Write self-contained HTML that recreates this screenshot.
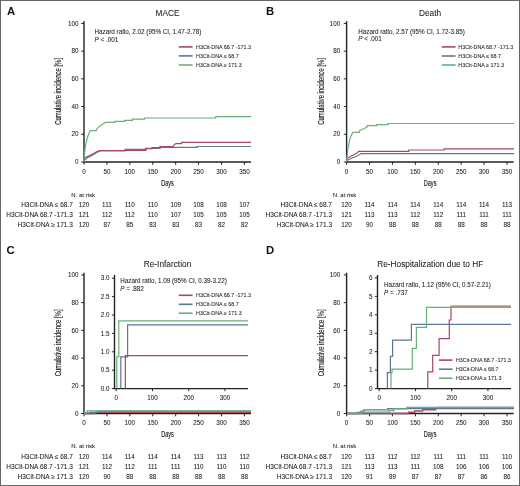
<!DOCTYPE html>
<html><head><meta charset="utf-8"><title>Cumulative incidence by H3Cit-DNA</title>
<style>html,body{margin:0;padding:0;background:#fff;width:520px;height:486px;overflow:hidden}</style>
</head><body>
<svg width="520" height="486" viewBox="0 0 520 486" style="display:block;will-change:transform">
<g font-family='"Liberation Sans", sans-serif'>
<rect x="0" y="0" width="520" height="486" fill="#fff"/>
<text x="6.9" y="14.8" font-size="11.3" text-anchor="start" font-weight="bold" fill="#111" >A</text>
<text x="167.5" y="15.8" font-size="8.3" text-anchor="middle" font-weight="normal" fill="#222" stroke="#222" stroke-width="0.06" >MACE</text>
<line x1="84.0" y1="162.6" x2="84.0" y2="21.2" stroke="#222" stroke-width="1.4"/>
<line x1="83.4" y1="162.0" x2="251" y2="162.0" stroke="#222" stroke-width="1.4"/>
<line x1="81.2" y1="162.00" x2="84.0" y2="162.00" stroke="#222" stroke-width="1"/>
<text x="78.5" y="164.2" font-size="6.3" text-anchor="end" font-weight="normal" fill="#222" stroke="#222" stroke-width="0.06" >0</text>
<line x1="81.2" y1="134.28" x2="84.0" y2="134.28" stroke="#222" stroke-width="1"/>
<text x="78.5" y="136.48" font-size="6.3" text-anchor="end" font-weight="normal" fill="#222" stroke="#222" stroke-width="0.06" >20</text>
<line x1="81.2" y1="106.56" x2="84.0" y2="106.56" stroke="#222" stroke-width="1"/>
<text x="78.5" y="108.76" font-size="6.3" text-anchor="end" font-weight="normal" fill="#222" stroke="#222" stroke-width="0.06" >40</text>
<line x1="81.2" y1="78.84" x2="84.0" y2="78.84" stroke="#222" stroke-width="1"/>
<text x="78.5" y="81.04" font-size="6.3" text-anchor="end" font-weight="normal" fill="#222" stroke="#222" stroke-width="0.06" >60</text>
<line x1="81.2" y1="51.12" x2="84.0" y2="51.12" stroke="#222" stroke-width="1"/>
<text x="78.5" y="53.32000000000001" font-size="6.3" text-anchor="end" font-weight="normal" fill="#222" stroke="#222" stroke-width="0.06" >80</text>
<line x1="81.2" y1="23.40" x2="84.0" y2="23.40" stroke="#222" stroke-width="1"/>
<text x="78.5" y="25.600000000000005" font-size="6.3" text-anchor="end" font-weight="normal" fill="#222" stroke="#222" stroke-width="0.06" >100</text>
<line x1="84.00" y1="162.0" x2="84.00" y2="164.8" stroke="#222" stroke-width="1"/>
<text x="84.00" y="173.8" font-size="6.3" text-anchor="middle" font-weight="normal" fill="#222" stroke="#222" stroke-width="0.06" >0</text>
<line x1="106.91" y1="162.0" x2="106.91" y2="164.8" stroke="#222" stroke-width="1"/>
<text x="106.91" y="173.8" font-size="6.3" text-anchor="middle" font-weight="normal" fill="#222" stroke="#222" stroke-width="0.06" >50</text>
<line x1="129.83" y1="162.0" x2="129.83" y2="164.8" stroke="#222" stroke-width="1"/>
<text x="129.83" y="173.8" font-size="6.3" text-anchor="middle" font-weight="normal" fill="#222" stroke="#222" stroke-width="0.06" >100</text>
<line x1="152.75" y1="162.0" x2="152.75" y2="164.8" stroke="#222" stroke-width="1"/>
<text x="152.75" y="173.8" font-size="6.3" text-anchor="middle" font-weight="normal" fill="#222" stroke="#222" stroke-width="0.06" >150</text>
<line x1="175.66" y1="162.0" x2="175.66" y2="164.8" stroke="#222" stroke-width="1"/>
<text x="175.66" y="173.8" font-size="6.3" text-anchor="middle" font-weight="normal" fill="#222" stroke="#222" stroke-width="0.06" >200</text>
<line x1="198.57" y1="162.0" x2="198.57" y2="164.8" stroke="#222" stroke-width="1"/>
<text x="198.57" y="173.8" font-size="6.3" text-anchor="middle" font-weight="normal" fill="#222" stroke="#222" stroke-width="0.06" >250</text>
<line x1="221.49" y1="162.0" x2="221.49" y2="164.8" stroke="#222" stroke-width="1"/>
<text x="221.49" y="173.8" font-size="6.3" text-anchor="middle" font-weight="normal" fill="#222" stroke="#222" stroke-width="0.06" >300</text>
<line x1="244.41" y1="162.0" x2="244.41" y2="164.8" stroke="#222" stroke-width="1"/>
<text x="244.41" y="173.8" font-size="6.3" text-anchor="middle" font-weight="normal" fill="#222" stroke="#222" stroke-width="0.06" >350</text>
<text x="0" y="0" font-size="9" fill="#222" stroke="#222" stroke-width="0.15" text-anchor="middle" transform="translate(167.5,185.8) scale(0.62,1)">Days</text>
<text x="0" y="0" font-size="9" fill="#222" stroke="#222" stroke-width="0.15" text-anchor="middle" transform="translate(61.2,91.4) rotate(-90) scale(0.663,1)">Cumulative incidence [%]</text>
<text x="94.5" y="34.1" font-size="6.3" text-anchor="start" font-weight="normal" fill="#222" stroke="#222" stroke-width="0.06" >Hazard ratio, 2.02 (95% CI, 1.47-2.78)</text>
<text x="94.5" y="42.0" font-size="6.3" text-anchor="start" font-weight="normal" fill="#222" stroke="#222" stroke-width="0.06" ><tspan font-style="italic">P</tspan> &lt; .001</text>
<line x1="178.8" y1="46.9" x2="192.6" y2="46.9" stroke="#a8485f" stroke-width="1.6"/>
<text x="196.1" y="48.8" font-size="5.38" text-anchor="start" font-weight="normal" fill="#222" stroke="#222" stroke-width="0.06" >H3Cit-DNA 68.7 -171.3</text>
<line x1="178.8" y1="55.9" x2="192.6" y2="55.9" stroke="#5d7894" stroke-width="1.6"/>
<text x="196.1" y="57.8" font-size="5.38" text-anchor="start" font-weight="normal" fill="#222" stroke="#222" stroke-width="0.06" >H3Cit-DNA &#8804; 68.7</text>
<line x1="178.8" y1="65.0" x2="192.6" y2="65.0" stroke="#6aae7c" stroke-width="1.6"/>
<text x="196.1" y="66.9" font-size="5.38" text-anchor="start" font-weight="normal" fill="#222" stroke="#222" stroke-width="0.06" >H3Cit-DNA &#8805; 171.3</text>
<polyline points="84.00,162.00 84.30,160.50 86.40,158.30 89.00,157.00 92.00,155.50 95.00,153.50 98.00,152.00 101.00,150.80 125.00,150.80 125.00,149.40 145.50,149.40 145.50,148.30 160.00,148.30 160.00,147.40 197.00,147.40 197.00,146.50 251.00,146.50" fill="none" stroke="#5d7894" stroke-width="1.2" stroke-linejoin="miter"/>
<polyline points="84.00,162.00 84.30,158.00 86.00,157.20 88.00,156.30 91.00,154.80 94.00,153.30 97.00,151.60 99.50,150.50 146.00,150.50 146.00,148.60 152.00,148.60 152.00,147.60 160.00,147.60 160.00,146.60 173.00,146.60 174.50,144.50 176.00,143.60 181.50,143.60 181.50,142.30 251.00,142.30" fill="none" stroke="#a8485f" stroke-width="1.2" stroke-linejoin="miter"/>
<polyline points="84.00,162.00 84.40,155.00 85.20,148.00 86.30,142.00 87.30,138.00 88.40,134.80 90.10,130.60 96.30,130.60 97.10,128.60 99.30,126.40 102.70,124.20 105.20,122.40 115.00,122.40 115.00,121.30 124.60,121.30 124.60,120.30 132.30,120.30 132.30,119.20 144.60,119.20 144.60,118.00 215.70,118.00 215.70,116.60 251.00,116.60" fill="none" stroke="#6aae7c" stroke-width="1.2" stroke-linejoin="miter"/>
<text x="71.3" y="196.6" font-size="6.0" text-anchor="start" font-weight="normal" fill="#222" stroke="#222" stroke-width="0.06" >N. at risk</text>
<text x="72.8" y="207.3" font-size="6.5" text-anchor="end" font-weight="normal" fill="#222" stroke="#222" stroke-width="0.06" >H3Cit-DNA &#8804; 68.7</text>
<text x="84.00" y="207.3" font-size="6.3" text-anchor="middle" font-weight="normal" fill="#222" stroke="#222" stroke-width="0.06" >120</text>
<text x="106.91" y="207.3" font-size="6.3" text-anchor="middle" font-weight="normal" fill="#222" stroke="#222" stroke-width="0.06" >111</text>
<text x="129.83" y="207.3" font-size="6.3" text-anchor="middle" font-weight="normal" fill="#222" stroke="#222" stroke-width="0.06" >110</text>
<text x="152.75" y="207.3" font-size="6.3" text-anchor="middle" font-weight="normal" fill="#222" stroke="#222" stroke-width="0.06" >110</text>
<text x="175.66" y="207.3" font-size="6.3" text-anchor="middle" font-weight="normal" fill="#222" stroke="#222" stroke-width="0.06" >109</text>
<text x="198.57" y="207.3" font-size="6.3" text-anchor="middle" font-weight="normal" fill="#222" stroke="#222" stroke-width="0.06" >108</text>
<text x="221.49" y="207.3" font-size="6.3" text-anchor="middle" font-weight="normal" fill="#222" stroke="#222" stroke-width="0.06" >108</text>
<text x="244.41" y="207.3" font-size="6.3" text-anchor="middle" font-weight="normal" fill="#222" stroke="#222" stroke-width="0.06" >107</text>
<text x="72.8" y="217.3" font-size="6.5" text-anchor="end" font-weight="normal" fill="#222" stroke="#222" stroke-width="0.06" >H3Cit-DNA 68.7 -171.3</text>
<text x="84.00" y="217.3" font-size="6.3" text-anchor="middle" font-weight="normal" fill="#222" stroke="#222" stroke-width="0.06" >121</text>
<text x="106.91" y="217.3" font-size="6.3" text-anchor="middle" font-weight="normal" fill="#222" stroke="#222" stroke-width="0.06" >112</text>
<text x="129.83" y="217.3" font-size="6.3" text-anchor="middle" font-weight="normal" fill="#222" stroke="#222" stroke-width="0.06" >112</text>
<text x="152.75" y="217.3" font-size="6.3" text-anchor="middle" font-weight="normal" fill="#222" stroke="#222" stroke-width="0.06" >110</text>
<text x="175.66" y="217.3" font-size="6.3" text-anchor="middle" font-weight="normal" fill="#222" stroke="#222" stroke-width="0.06" >107</text>
<text x="198.57" y="217.3" font-size="6.3" text-anchor="middle" font-weight="normal" fill="#222" stroke="#222" stroke-width="0.06" >105</text>
<text x="221.49" y="217.3" font-size="6.3" text-anchor="middle" font-weight="normal" fill="#222" stroke="#222" stroke-width="0.06" >105</text>
<text x="244.41" y="217.3" font-size="6.3" text-anchor="middle" font-weight="normal" fill="#222" stroke="#222" stroke-width="0.06" >105</text>
<text x="72.8" y="227.4" font-size="6.5" text-anchor="end" font-weight="normal" fill="#222" stroke="#222" stroke-width="0.06" >H3Cit-DNA &#8805; 171.3</text>
<text x="84.00" y="227.4" font-size="6.3" text-anchor="middle" font-weight="normal" fill="#222" stroke="#222" stroke-width="0.06" >120</text>
<text x="106.91" y="227.4" font-size="6.3" text-anchor="middle" font-weight="normal" fill="#222" stroke="#222" stroke-width="0.06" >87</text>
<text x="129.83" y="227.4" font-size="6.3" text-anchor="middle" font-weight="normal" fill="#222" stroke="#222" stroke-width="0.06" >85</text>
<text x="152.75" y="227.4" font-size="6.3" text-anchor="middle" font-weight="normal" fill="#222" stroke="#222" stroke-width="0.06" >83</text>
<text x="175.66" y="227.4" font-size="6.3" text-anchor="middle" font-weight="normal" fill="#222" stroke="#222" stroke-width="0.06" >83</text>
<text x="198.57" y="227.4" font-size="6.3" text-anchor="middle" font-weight="normal" fill="#222" stroke="#222" stroke-width="0.06" >83</text>
<text x="221.49" y="227.4" font-size="6.3" text-anchor="middle" font-weight="normal" fill="#222" stroke="#222" stroke-width="0.06" >82</text>
<text x="244.41" y="227.4" font-size="6.3" text-anchor="middle" font-weight="normal" fill="#222" stroke="#222" stroke-width="0.06" >82</text>
<text x="266.1" y="14.8" font-size="11.3" text-anchor="start" font-weight="bold" fill="#111" >B</text>
<text x="430.1" y="15.8" font-size="8.3" text-anchor="middle" font-weight="normal" fill="#222" stroke="#222" stroke-width="0.06" >Death</text>
<line x1="346.6" y1="162.6" x2="346.6" y2="21.2" stroke="#222" stroke-width="1.4"/>
<line x1="346.0" y1="162.0" x2="513.6" y2="162.0" stroke="#222" stroke-width="1.4"/>
<line x1="343.8" y1="162.00" x2="346.6" y2="162.00" stroke="#222" stroke-width="1"/>
<text x="340.20000000000005" y="164.2" font-size="6.3" text-anchor="end" font-weight="normal" fill="#222" stroke="#222" stroke-width="0.06" >0</text>
<line x1="343.8" y1="134.28" x2="346.6" y2="134.28" stroke="#222" stroke-width="1"/>
<text x="340.20000000000005" y="136.48" font-size="6.3" text-anchor="end" font-weight="normal" fill="#222" stroke="#222" stroke-width="0.06" >20</text>
<line x1="343.8" y1="106.56" x2="346.6" y2="106.56" stroke="#222" stroke-width="1"/>
<text x="340.20000000000005" y="108.76" font-size="6.3" text-anchor="end" font-weight="normal" fill="#222" stroke="#222" stroke-width="0.06" >40</text>
<line x1="343.8" y1="78.84" x2="346.6" y2="78.84" stroke="#222" stroke-width="1"/>
<text x="340.20000000000005" y="81.04" font-size="6.3" text-anchor="end" font-weight="normal" fill="#222" stroke="#222" stroke-width="0.06" >60</text>
<line x1="343.8" y1="51.12" x2="346.6" y2="51.12" stroke="#222" stroke-width="1"/>
<text x="340.20000000000005" y="53.32000000000001" font-size="6.3" text-anchor="end" font-weight="normal" fill="#222" stroke="#222" stroke-width="0.06" >80</text>
<line x1="343.8" y1="23.40" x2="346.6" y2="23.40" stroke="#222" stroke-width="1"/>
<text x="340.20000000000005" y="25.600000000000005" font-size="6.3" text-anchor="end" font-weight="normal" fill="#222" stroke="#222" stroke-width="0.06" >100</text>
<line x1="346.60" y1="162.0" x2="346.60" y2="164.8" stroke="#222" stroke-width="1"/>
<text x="346.60" y="173.8" font-size="6.3" text-anchor="middle" font-weight="normal" fill="#222" stroke="#222" stroke-width="0.06" >0</text>
<line x1="369.52" y1="162.0" x2="369.52" y2="164.8" stroke="#222" stroke-width="1"/>
<text x="369.52" y="173.8" font-size="6.3" text-anchor="middle" font-weight="normal" fill="#222" stroke="#222" stroke-width="0.06" >50</text>
<line x1="392.43" y1="162.0" x2="392.43" y2="164.8" stroke="#222" stroke-width="1"/>
<text x="392.43" y="173.8" font-size="6.3" text-anchor="middle" font-weight="normal" fill="#222" stroke="#222" stroke-width="0.06" >100</text>
<line x1="415.35" y1="162.0" x2="415.35" y2="164.8" stroke="#222" stroke-width="1"/>
<text x="415.35" y="173.8" font-size="6.3" text-anchor="middle" font-weight="normal" fill="#222" stroke="#222" stroke-width="0.06" >150</text>
<line x1="438.26" y1="162.0" x2="438.26" y2="164.8" stroke="#222" stroke-width="1"/>
<text x="438.26" y="173.8" font-size="6.3" text-anchor="middle" font-weight="normal" fill="#222" stroke="#222" stroke-width="0.06" >200</text>
<line x1="461.18" y1="162.0" x2="461.18" y2="164.8" stroke="#222" stroke-width="1"/>
<text x="461.18" y="173.8" font-size="6.3" text-anchor="middle" font-weight="normal" fill="#222" stroke="#222" stroke-width="0.06" >250</text>
<line x1="484.09" y1="162.0" x2="484.09" y2="164.8" stroke="#222" stroke-width="1"/>
<text x="484.09" y="173.8" font-size="6.3" text-anchor="middle" font-weight="normal" fill="#222" stroke="#222" stroke-width="0.06" >300</text>
<line x1="507.00" y1="162.0" x2="507.00" y2="164.8" stroke="#222" stroke-width="1"/>
<text x="507.00" y="173.8" font-size="6.3" text-anchor="middle" font-weight="normal" fill="#222" stroke="#222" stroke-width="0.06" >350</text>
<text x="0" y="0" font-size="9" fill="#222" stroke="#222" stroke-width="0.15" text-anchor="middle" transform="translate(430.1,185.8) scale(0.62,1)">Days</text>
<text x="0" y="0" font-size="9" fill="#222" stroke="#222" stroke-width="0.15" text-anchor="middle" transform="translate(323.8,91.4) rotate(-90) scale(0.663,1)">Cumulative incidence [%]</text>
<text x="358.2" y="33.8" font-size="6.3" text-anchor="start" font-weight="normal" fill="#222" stroke="#222" stroke-width="0.06" >Hazard ratio, 2.57 (95% CI, 1.72-3.85)</text>
<text x="358.2" y="40.8" font-size="6.3" text-anchor="start" font-weight="normal" fill="#222" stroke="#222" stroke-width="0.06" ><tspan font-style="italic">P</tspan> &lt; .001</text>
<line x1="441.8" y1="46.9" x2="455.6" y2="46.9" stroke="#a8485f" stroke-width="1.6"/>
<text x="458.3" y="48.8" font-size="5.38" text-anchor="start" font-weight="normal" fill="#222" stroke="#222" stroke-width="0.06" >H3Cit-DNA 68.7 -171.3</text>
<line x1="441.8" y1="56.0" x2="455.6" y2="56.0" stroke="#5d7894" stroke-width="1.6"/>
<text x="458.3" y="57.9" font-size="5.38" text-anchor="start" font-weight="normal" fill="#222" stroke="#222" stroke-width="0.06" >H3Cit-DNA &#8804; 68.7</text>
<line x1="441.8" y1="65.0" x2="455.6" y2="65.0" stroke="#6aae7c" stroke-width="1.6"/>
<text x="458.3" y="66.9" font-size="5.38" text-anchor="start" font-weight="normal" fill="#222" stroke="#222" stroke-width="0.06" >H3Cit-DNA &#8805; 171.3</text>
<polyline points="346.60,162.00 346.80,160.50 349.00,159.50 352.00,158.00 355.00,157.00 358.00,155.50 360.00,154.30 361.00,153.60 514.00,153.60" fill="none" stroke="#5d7894" stroke-width="1.2" stroke-linejoin="miter"/>
<polyline points="346.60,162.00 346.80,158.50 349.00,157.50 351.00,156.00 353.00,155.30 355.00,154.00 357.00,153.00 358.70,151.30 408.80,151.30 408.80,150.00 444.20,150.00 444.20,148.80 514.00,148.80" fill="none" stroke="#a8485f" stroke-width="1.2" stroke-linejoin="miter"/>
<polyline points="346.60,162.00 347.20,155.00 348.00,148.00 349.30,142.00 350.50,137.00 352.80,132.40 359.30,132.40 360.00,130.20 363.00,129.00 366.80,127.30 367.00,125.60 376.60,125.60 376.60,124.60 388.00,124.60 388.00,123.50 514.00,123.50" fill="none" stroke="#6aae7c" stroke-width="1.2" stroke-linejoin="miter"/>
<text x="332.70000000000005" y="196.6" font-size="6.0" text-anchor="start" font-weight="normal" fill="#222" stroke="#222" stroke-width="0.06" >N. at risk</text>
<text x="332.00000000000006" y="207.3" font-size="6.5" text-anchor="end" font-weight="normal" fill="#222" stroke="#222" stroke-width="0.06" >H3Cit-DNA &#8804; 68.7</text>
<text x="346.60" y="207.3" font-size="6.3" text-anchor="middle" font-weight="normal" fill="#222" stroke="#222" stroke-width="0.06" >120</text>
<text x="369.52" y="207.3" font-size="6.3" text-anchor="middle" font-weight="normal" fill="#222" stroke="#222" stroke-width="0.06" >114</text>
<text x="392.43" y="207.3" font-size="6.3" text-anchor="middle" font-weight="normal" fill="#222" stroke="#222" stroke-width="0.06" >114</text>
<text x="415.35" y="207.3" font-size="6.3" text-anchor="middle" font-weight="normal" fill="#222" stroke="#222" stroke-width="0.06" >114</text>
<text x="438.26" y="207.3" font-size="6.3" text-anchor="middle" font-weight="normal" fill="#222" stroke="#222" stroke-width="0.06" >114</text>
<text x="461.18" y="207.3" font-size="6.3" text-anchor="middle" font-weight="normal" fill="#222" stroke="#222" stroke-width="0.06" >114</text>
<text x="484.09" y="207.3" font-size="6.3" text-anchor="middle" font-weight="normal" fill="#222" stroke="#222" stroke-width="0.06" >114</text>
<text x="507.00" y="207.3" font-size="6.3" text-anchor="middle" font-weight="normal" fill="#222" stroke="#222" stroke-width="0.06" >113</text>
<text x="332.00000000000006" y="217.3" font-size="6.5" text-anchor="end" font-weight="normal" fill="#222" stroke="#222" stroke-width="0.06" >H3Cit-DNA 68.7 -171.3</text>
<text x="346.60" y="217.3" font-size="6.3" text-anchor="middle" font-weight="normal" fill="#222" stroke="#222" stroke-width="0.06" >121</text>
<text x="369.52" y="217.3" font-size="6.3" text-anchor="middle" font-weight="normal" fill="#222" stroke="#222" stroke-width="0.06" >113</text>
<text x="392.43" y="217.3" font-size="6.3" text-anchor="middle" font-weight="normal" fill="#222" stroke="#222" stroke-width="0.06" >113</text>
<text x="415.35" y="217.3" font-size="6.3" text-anchor="middle" font-weight="normal" fill="#222" stroke="#222" stroke-width="0.06" >112</text>
<text x="438.26" y="217.3" font-size="6.3" text-anchor="middle" font-weight="normal" fill="#222" stroke="#222" stroke-width="0.06" >112</text>
<text x="461.18" y="217.3" font-size="6.3" text-anchor="middle" font-weight="normal" fill="#222" stroke="#222" stroke-width="0.06" >111</text>
<text x="484.09" y="217.3" font-size="6.3" text-anchor="middle" font-weight="normal" fill="#222" stroke="#222" stroke-width="0.06" >111</text>
<text x="507.00" y="217.3" font-size="6.3" text-anchor="middle" font-weight="normal" fill="#222" stroke="#222" stroke-width="0.06" >111</text>
<text x="332.00000000000006" y="227.4" font-size="6.5" text-anchor="end" font-weight="normal" fill="#222" stroke="#222" stroke-width="0.06" >H3Cit-DNA &#8805; 171.3</text>
<text x="346.60" y="227.4" font-size="6.3" text-anchor="middle" font-weight="normal" fill="#222" stroke="#222" stroke-width="0.06" >120</text>
<text x="369.52" y="227.4" font-size="6.3" text-anchor="middle" font-weight="normal" fill="#222" stroke="#222" stroke-width="0.06" >90</text>
<text x="392.43" y="227.4" font-size="6.3" text-anchor="middle" font-weight="normal" fill="#222" stroke="#222" stroke-width="0.06" >88</text>
<text x="415.35" y="227.4" font-size="6.3" text-anchor="middle" font-weight="normal" fill="#222" stroke="#222" stroke-width="0.06" >88</text>
<text x="438.26" y="227.4" font-size="6.3" text-anchor="middle" font-weight="normal" fill="#222" stroke="#222" stroke-width="0.06" >88</text>
<text x="461.18" y="227.4" font-size="6.3" text-anchor="middle" font-weight="normal" fill="#222" stroke="#222" stroke-width="0.06" >88</text>
<text x="484.09" y="227.4" font-size="6.3" text-anchor="middle" font-weight="normal" fill="#222" stroke="#222" stroke-width="0.06" >88</text>
<text x="507.00" y="227.4" font-size="6.3" text-anchor="middle" font-weight="normal" fill="#222" stroke="#222" stroke-width="0.06" >88</text>
<text x="6.4" y="253.9" font-size="11.3" text-anchor="start" font-weight="bold" fill="#111" >C</text>
<text x="167.5" y="267.4" font-size="8.3" text-anchor="middle" font-weight="normal" fill="#222" stroke="#222" stroke-width="0.06" >Re-Infarction</text>
<line x1="84.0" y1="414.1" x2="84.0" y2="272.7" stroke="#222" stroke-width="1.4"/>
<line x1="83.4" y1="413.5" x2="251" y2="413.5" stroke="#222" stroke-width="1.4"/>
<line x1="81.2" y1="413.50" x2="84.0" y2="413.50" stroke="#222" stroke-width="1"/>
<text x="78.5" y="415.7" font-size="6.3" text-anchor="end" font-weight="normal" fill="#222" stroke="#222" stroke-width="0.06" >0</text>
<line x1="81.2" y1="385.78" x2="84.0" y2="385.78" stroke="#222" stroke-width="1"/>
<text x="78.5" y="387.97999999999996" font-size="6.3" text-anchor="end" font-weight="normal" fill="#222" stroke="#222" stroke-width="0.06" >20</text>
<line x1="81.2" y1="358.06" x2="84.0" y2="358.06" stroke="#222" stroke-width="1"/>
<text x="78.5" y="360.26" font-size="6.3" text-anchor="end" font-weight="normal" fill="#222" stroke="#222" stroke-width="0.06" >40</text>
<line x1="81.2" y1="330.34" x2="84.0" y2="330.34" stroke="#222" stroke-width="1"/>
<text x="78.5" y="332.54" font-size="6.3" text-anchor="end" font-weight="normal" fill="#222" stroke="#222" stroke-width="0.06" >60</text>
<line x1="81.2" y1="302.62" x2="84.0" y2="302.62" stroke="#222" stroke-width="1"/>
<text x="78.5" y="304.82" font-size="6.3" text-anchor="end" font-weight="normal" fill="#222" stroke="#222" stroke-width="0.06" >80</text>
<line x1="81.2" y1="274.90" x2="84.0" y2="274.90" stroke="#222" stroke-width="1"/>
<text x="78.5" y="277.09999999999997" font-size="6.3" text-anchor="end" font-weight="normal" fill="#222" stroke="#222" stroke-width="0.06" >100</text>
<line x1="84.00" y1="413.5" x2="84.00" y2="416.3" stroke="#222" stroke-width="1"/>
<text x="84.00" y="425.3" font-size="6.3" text-anchor="middle" font-weight="normal" fill="#222" stroke="#222" stroke-width="0.06" >0</text>
<line x1="106.91" y1="413.5" x2="106.91" y2="416.3" stroke="#222" stroke-width="1"/>
<text x="106.91" y="425.3" font-size="6.3" text-anchor="middle" font-weight="normal" fill="#222" stroke="#222" stroke-width="0.06" >50</text>
<line x1="129.83" y1="413.5" x2="129.83" y2="416.3" stroke="#222" stroke-width="1"/>
<text x="129.83" y="425.3" font-size="6.3" text-anchor="middle" font-weight="normal" fill="#222" stroke="#222" stroke-width="0.06" >100</text>
<line x1="152.75" y1="413.5" x2="152.75" y2="416.3" stroke="#222" stroke-width="1"/>
<text x="152.75" y="425.3" font-size="6.3" text-anchor="middle" font-weight="normal" fill="#222" stroke="#222" stroke-width="0.06" >150</text>
<line x1="175.66" y1="413.5" x2="175.66" y2="416.3" stroke="#222" stroke-width="1"/>
<text x="175.66" y="425.3" font-size="6.3" text-anchor="middle" font-weight="normal" fill="#222" stroke="#222" stroke-width="0.06" >200</text>
<line x1="198.57" y1="413.5" x2="198.57" y2="416.3" stroke="#222" stroke-width="1"/>
<text x="198.57" y="425.3" font-size="6.3" text-anchor="middle" font-weight="normal" fill="#222" stroke="#222" stroke-width="0.06" >250</text>
<line x1="221.49" y1="413.5" x2="221.49" y2="416.3" stroke="#222" stroke-width="1"/>
<text x="221.49" y="425.3" font-size="6.3" text-anchor="middle" font-weight="normal" fill="#222" stroke="#222" stroke-width="0.06" >300</text>
<line x1="244.41" y1="413.5" x2="244.41" y2="416.3" stroke="#222" stroke-width="1"/>
<text x="244.41" y="425.3" font-size="6.3" text-anchor="middle" font-weight="normal" fill="#222" stroke="#222" stroke-width="0.06" >350</text>
<text x="0" y="0" font-size="9" fill="#222" stroke="#222" stroke-width="0.15" text-anchor="middle" transform="translate(167.5,437.3) scale(0.62,1)">Days</text>
<text x="0" y="0" font-size="9" fill="#222" stroke="#222" stroke-width="0.15" text-anchor="middle" transform="translate(61.2,342.9) rotate(-90) scale(0.663,1)">Cumulative incidence [%]</text>
<line x1="114.5" y1="388.6" x2="114.5" y2="275.0" stroke="#222" stroke-width="1.4"/>
<line x1="113.9" y1="388.6" x2="248" y2="388.6" stroke="#222" stroke-width="1.4"/>
<line x1="111.9" y1="388.60" x2="114.5" y2="388.60" stroke="#222" stroke-width="1"/>
<text x="109.5" y="390.8" font-size="6.3" text-anchor="end" font-weight="normal" fill="#222" stroke="#222" stroke-width="0.06" >0.0</text>
<line x1="111.9" y1="370.20" x2="114.5" y2="370.20" stroke="#222" stroke-width="1"/>
<text x="109.5" y="372.40000000000003" font-size="6.3" text-anchor="end" font-weight="normal" fill="#222" stroke="#222" stroke-width="0.06" >0.5</text>
<line x1="111.9" y1="351.80" x2="114.5" y2="351.80" stroke="#222" stroke-width="1"/>
<text x="109.5" y="354.0" font-size="6.3" text-anchor="end" font-weight="normal" fill="#222" stroke="#222" stroke-width="0.06" >1.0</text>
<line x1="111.9" y1="333.40" x2="114.5" y2="333.40" stroke="#222" stroke-width="1"/>
<text x="109.5" y="335.6" font-size="6.3" text-anchor="end" font-weight="normal" fill="#222" stroke="#222" stroke-width="0.06" >1.5</text>
<line x1="111.9" y1="315.00" x2="114.5" y2="315.00" stroke="#222" stroke-width="1"/>
<text x="109.5" y="317.2" font-size="6.3" text-anchor="end" font-weight="normal" fill="#222" stroke="#222" stroke-width="0.06" >2.0</text>
<line x1="111.9" y1="296.60" x2="114.5" y2="296.60" stroke="#222" stroke-width="1"/>
<text x="109.5" y="298.8" font-size="6.3" text-anchor="end" font-weight="normal" fill="#222" stroke="#222" stroke-width="0.06" >2.5</text>
<line x1="111.9" y1="278.20" x2="114.5" y2="278.20" stroke="#222" stroke-width="1"/>
<text x="109.5" y="280.40000000000003" font-size="6.3" text-anchor="end" font-weight="normal" fill="#222" stroke="#222" stroke-width="0.06" >3.0</text>
<line x1="116.20" y1="388.6" x2="116.20" y2="391.2" stroke="#222" stroke-width="1"/>
<text x="116.20" y="400.2" font-size="6.3" text-anchor="middle" font-weight="normal" fill="#222" stroke="#222" stroke-width="0.06" >0</text>
<line x1="152.45" y1="388.6" x2="152.45" y2="391.2" stroke="#222" stroke-width="1"/>
<text x="152.45" y="400.2" font-size="6.3" text-anchor="middle" font-weight="normal" fill="#222" stroke="#222" stroke-width="0.06" >100</text>
<line x1="188.70" y1="388.6" x2="188.70" y2="391.2" stroke="#222" stroke-width="1"/>
<text x="188.70" y="400.2" font-size="6.3" text-anchor="middle" font-weight="normal" fill="#222" stroke="#222" stroke-width="0.06" >200</text>
<line x1="224.95" y1="388.6" x2="224.95" y2="391.2" stroke="#222" stroke-width="1"/>
<text x="224.95" y="400.2" font-size="6.3" text-anchor="middle" font-weight="normal" fill="#222" stroke="#222" stroke-width="0.06" >300</text>
<text x="120.2" y="282.8" font-size="6.3" text-anchor="start" font-weight="normal" fill="#222" stroke="#222" stroke-width="0.06" >Hazard ratio, 1.09 (95% CI, 0.39-3.22)</text>
<text x="120.2" y="290.5" font-size="6.3" text-anchor="start" font-weight="normal" fill="#222" stroke="#222" stroke-width="0.06" ><tspan font-style="italic">P</tspan> = .882</text>
<line x1="178.8" y1="295.3" x2="192.6" y2="295.3" stroke="#a8485f" stroke-width="1.6"/>
<text x="196.1" y="297.2" font-size="5.38" text-anchor="start" font-weight="normal" fill="#222" stroke="#222" stroke-width="0.06" >H3Cit-DNA 68.7 -171.3</text>
<line x1="178.8" y1="304.3" x2="192.6" y2="304.3" stroke="#5d7894" stroke-width="1.6"/>
<text x="196.1" y="306.2" font-size="5.38" text-anchor="start" font-weight="normal" fill="#222" stroke="#222" stroke-width="0.06" >H3Cit-DNA &#8804; 68.7</text>
<line x1="178.8" y1="313.2" x2="192.6" y2="313.2" stroke="#6aae7c" stroke-width="1.6"/>
<text x="196.1" y="315.09999999999997" font-size="5.38" text-anchor="start" font-weight="normal" fill="#222" stroke="#222" stroke-width="0.06" >H3Cit-DNA &#8805; 171.3</text>
<polyline points="125.40,388.60 125.40,355.70 248.00,355.70" fill="none" stroke="#a8485f" stroke-width="1.2" stroke-linejoin="miter"/>
<polyline points="120.80,388.60 120.80,356.80 127.60,356.80 127.60,324.80 248.00,324.80" fill="none" stroke="#5d7894" stroke-width="1.2" stroke-linejoin="miter"/>
<polyline points="116.80,388.60 116.80,356.60 118.80,356.60 118.80,320.80 248.00,320.80" fill="none" stroke="#6aae7c" stroke-width="1.2" stroke-linejoin="miter"/>
<polyline points="84.00,413.50 95.63,413.50 95.63,412.26 251.00,412.26" fill="none" stroke="#a8485f" stroke-width="1.3" stroke-linejoin="miter"/>
<polyline points="84.00,413.50 89.82,413.50 89.82,412.30 98.41,412.30 98.41,411.10 251.00,411.10" fill="none" stroke="#5d7894" stroke-width="1.3" stroke-linejoin="miter"/>
<polyline points="84.00,413.50 84.76,413.50 84.76,412.29 87.29,412.29 87.29,410.95 251.00,410.95" fill="none" stroke="#6aae7c" stroke-width="1.3" stroke-linejoin="miter"/>
<text x="71.3" y="448.1" font-size="6.0" text-anchor="start" font-weight="normal" fill="#222" stroke="#222" stroke-width="0.06" >N. at risk</text>
<text x="72.8" y="458.8" font-size="6.5" text-anchor="end" font-weight="normal" fill="#222" stroke="#222" stroke-width="0.06" >H3Cit-DNA &#8804; 68.7</text>
<text x="84.00" y="458.8" font-size="6.3" text-anchor="middle" font-weight="normal" fill="#222" stroke="#222" stroke-width="0.06" >120</text>
<text x="106.91" y="458.8" font-size="6.3" text-anchor="middle" font-weight="normal" fill="#222" stroke="#222" stroke-width="0.06" >114</text>
<text x="129.83" y="458.8" font-size="6.3" text-anchor="middle" font-weight="normal" fill="#222" stroke="#222" stroke-width="0.06" >114</text>
<text x="152.75" y="458.8" font-size="6.3" text-anchor="middle" font-weight="normal" fill="#222" stroke="#222" stroke-width="0.06" >114</text>
<text x="175.66" y="458.8" font-size="6.3" text-anchor="middle" font-weight="normal" fill="#222" stroke="#222" stroke-width="0.06" >114</text>
<text x="198.57" y="458.8" font-size="6.3" text-anchor="middle" font-weight="normal" fill="#222" stroke="#222" stroke-width="0.06" >113</text>
<text x="221.49" y="458.8" font-size="6.3" text-anchor="middle" font-weight="normal" fill="#222" stroke="#222" stroke-width="0.06" >113</text>
<text x="244.41" y="458.8" font-size="6.3" text-anchor="middle" font-weight="normal" fill="#222" stroke="#222" stroke-width="0.06" >112</text>
<text x="72.8" y="468.8" font-size="6.5" text-anchor="end" font-weight="normal" fill="#222" stroke="#222" stroke-width="0.06" >H3Cit-DNA 68.7 -171.3</text>
<text x="84.00" y="468.8" font-size="6.3" text-anchor="middle" font-weight="normal" fill="#222" stroke="#222" stroke-width="0.06" >121</text>
<text x="106.91" y="468.8" font-size="6.3" text-anchor="middle" font-weight="normal" fill="#222" stroke="#222" stroke-width="0.06" >112</text>
<text x="129.83" y="468.8" font-size="6.3" text-anchor="middle" font-weight="normal" fill="#222" stroke="#222" stroke-width="0.06" >112</text>
<text x="152.75" y="468.8" font-size="6.3" text-anchor="middle" font-weight="normal" fill="#222" stroke="#222" stroke-width="0.06" >111</text>
<text x="175.66" y="468.8" font-size="6.3" text-anchor="middle" font-weight="normal" fill="#222" stroke="#222" stroke-width="0.06" >111</text>
<text x="198.57" y="468.8" font-size="6.3" text-anchor="middle" font-weight="normal" fill="#222" stroke="#222" stroke-width="0.06" >110</text>
<text x="221.49" y="468.8" font-size="6.3" text-anchor="middle" font-weight="normal" fill="#222" stroke="#222" stroke-width="0.06" >110</text>
<text x="244.41" y="468.8" font-size="6.3" text-anchor="middle" font-weight="normal" fill="#222" stroke="#222" stroke-width="0.06" >110</text>
<text x="72.8" y="478.9" font-size="6.5" text-anchor="end" font-weight="normal" fill="#222" stroke="#222" stroke-width="0.06" >H3Cit-DNA &#8805; 171.3</text>
<text x="84.00" y="478.9" font-size="6.3" text-anchor="middle" font-weight="normal" fill="#222" stroke="#222" stroke-width="0.06" >120</text>
<text x="106.91" y="478.9" font-size="6.3" text-anchor="middle" font-weight="normal" fill="#222" stroke="#222" stroke-width="0.06" >90</text>
<text x="129.83" y="478.9" font-size="6.3" text-anchor="middle" font-weight="normal" fill="#222" stroke="#222" stroke-width="0.06" >88</text>
<text x="152.75" y="478.9" font-size="6.3" text-anchor="middle" font-weight="normal" fill="#222" stroke="#222" stroke-width="0.06" >88</text>
<text x="175.66" y="478.9" font-size="6.3" text-anchor="middle" font-weight="normal" fill="#222" stroke="#222" stroke-width="0.06" >88</text>
<text x="198.57" y="478.9" font-size="6.3" text-anchor="middle" font-weight="normal" fill="#222" stroke="#222" stroke-width="0.06" >88</text>
<text x="221.49" y="478.9" font-size="6.3" text-anchor="middle" font-weight="normal" fill="#222" stroke="#222" stroke-width="0.06" >88</text>
<text x="244.41" y="478.9" font-size="6.3" text-anchor="middle" font-weight="normal" fill="#222" stroke="#222" stroke-width="0.06" >88</text>
<text x="266.1" y="253.8" font-size="11.3" text-anchor="start" font-weight="bold" fill="#111" >D</text>
<text x="430.2" y="267.4" font-size="8.3" text-anchor="middle" font-weight="normal" fill="#222" stroke="#222" stroke-width="0.06" >Re-Hospitalization due to HF</text>
<line x1="346.6" y1="414.1" x2="346.6" y2="272.7" stroke="#222" stroke-width="1.4"/>
<line x1="346.0" y1="413.5" x2="513.6" y2="413.5" stroke="#222" stroke-width="1.4"/>
<line x1="343.8" y1="413.50" x2="346.6" y2="413.50" stroke="#222" stroke-width="1"/>
<text x="340.20000000000005" y="415.7" font-size="6.3" text-anchor="end" font-weight="normal" fill="#222" stroke="#222" stroke-width="0.06" >0</text>
<line x1="343.8" y1="385.78" x2="346.6" y2="385.78" stroke="#222" stroke-width="1"/>
<text x="340.20000000000005" y="387.97999999999996" font-size="6.3" text-anchor="end" font-weight="normal" fill="#222" stroke="#222" stroke-width="0.06" >20</text>
<line x1="343.8" y1="358.06" x2="346.6" y2="358.06" stroke="#222" stroke-width="1"/>
<text x="340.20000000000005" y="360.26" font-size="6.3" text-anchor="end" font-weight="normal" fill="#222" stroke="#222" stroke-width="0.06" >40</text>
<line x1="343.8" y1="330.34" x2="346.6" y2="330.34" stroke="#222" stroke-width="1"/>
<text x="340.20000000000005" y="332.54" font-size="6.3" text-anchor="end" font-weight="normal" fill="#222" stroke="#222" stroke-width="0.06" >60</text>
<line x1="343.8" y1="302.62" x2="346.6" y2="302.62" stroke="#222" stroke-width="1"/>
<text x="340.20000000000005" y="304.82" font-size="6.3" text-anchor="end" font-weight="normal" fill="#222" stroke="#222" stroke-width="0.06" >80</text>
<line x1="343.8" y1="274.90" x2="346.6" y2="274.90" stroke="#222" stroke-width="1"/>
<text x="340.20000000000005" y="277.09999999999997" font-size="6.3" text-anchor="end" font-weight="normal" fill="#222" stroke="#222" stroke-width="0.06" >100</text>
<line x1="346.60" y1="413.5" x2="346.60" y2="416.3" stroke="#222" stroke-width="1"/>
<text x="346.60" y="425.3" font-size="6.3" text-anchor="middle" font-weight="normal" fill="#222" stroke="#222" stroke-width="0.06" >0</text>
<line x1="369.52" y1="413.5" x2="369.52" y2="416.3" stroke="#222" stroke-width="1"/>
<text x="369.52" y="425.3" font-size="6.3" text-anchor="middle" font-weight="normal" fill="#222" stroke="#222" stroke-width="0.06" >50</text>
<line x1="392.43" y1="413.5" x2="392.43" y2="416.3" stroke="#222" stroke-width="1"/>
<text x="392.43" y="425.3" font-size="6.3" text-anchor="middle" font-weight="normal" fill="#222" stroke="#222" stroke-width="0.06" >100</text>
<line x1="415.35" y1="413.5" x2="415.35" y2="416.3" stroke="#222" stroke-width="1"/>
<text x="415.35" y="425.3" font-size="6.3" text-anchor="middle" font-weight="normal" fill="#222" stroke="#222" stroke-width="0.06" >150</text>
<line x1="438.26" y1="413.5" x2="438.26" y2="416.3" stroke="#222" stroke-width="1"/>
<text x="438.26" y="425.3" font-size="6.3" text-anchor="middle" font-weight="normal" fill="#222" stroke="#222" stroke-width="0.06" >200</text>
<line x1="461.18" y1="413.5" x2="461.18" y2="416.3" stroke="#222" stroke-width="1"/>
<text x="461.18" y="425.3" font-size="6.3" text-anchor="middle" font-weight="normal" fill="#222" stroke="#222" stroke-width="0.06" >250</text>
<line x1="484.09" y1="413.5" x2="484.09" y2="416.3" stroke="#222" stroke-width="1"/>
<text x="484.09" y="425.3" font-size="6.3" text-anchor="middle" font-weight="normal" fill="#222" stroke="#222" stroke-width="0.06" >300</text>
<line x1="507.00" y1="413.5" x2="507.00" y2="416.3" stroke="#222" stroke-width="1"/>
<text x="507.00" y="425.3" font-size="6.3" text-anchor="middle" font-weight="normal" fill="#222" stroke="#222" stroke-width="0.06" >350</text>
<text x="0" y="0" font-size="9" fill="#222" stroke="#222" stroke-width="0.15" text-anchor="middle" transform="translate(430.1,437.3) scale(0.62,1)">Days</text>
<text x="0" y="0" font-size="9" fill="#222" stroke="#222" stroke-width="0.15" text-anchor="middle" transform="translate(323.8,342.9) rotate(-90) scale(0.663,1)">Cumulative incidence [%]</text>
<line x1="377.5" y1="388.6" x2="377.5" y2="275.0" stroke="#222" stroke-width="1.4"/>
<line x1="376.9" y1="388.6" x2="511.0" y2="388.6" stroke="#222" stroke-width="1.4"/>
<line x1="374.9" y1="388.60" x2="377.5" y2="388.60" stroke="#222" stroke-width="1"/>
<text x="372.5" y="390.8" font-size="6.3" text-anchor="end" font-weight="normal" fill="#222" stroke="#222" stroke-width="0.06" >0</text>
<line x1="374.9" y1="370.15" x2="377.5" y2="370.15" stroke="#222" stroke-width="1"/>
<text x="372.5" y="372.35" font-size="6.3" text-anchor="end" font-weight="normal" fill="#222" stroke="#222" stroke-width="0.06" >1</text>
<line x1="374.9" y1="351.70" x2="377.5" y2="351.70" stroke="#222" stroke-width="1"/>
<text x="372.5" y="353.90000000000003" font-size="6.3" text-anchor="end" font-weight="normal" fill="#222" stroke="#222" stroke-width="0.06" >2</text>
<line x1="374.9" y1="333.25" x2="377.5" y2="333.25" stroke="#222" stroke-width="1"/>
<text x="372.5" y="335.45" font-size="6.3" text-anchor="end" font-weight="normal" fill="#222" stroke="#222" stroke-width="0.06" >3</text>
<line x1="374.9" y1="314.80" x2="377.5" y2="314.80" stroke="#222" stroke-width="1"/>
<text x="372.5" y="317.0" font-size="6.3" text-anchor="end" font-weight="normal" fill="#222" stroke="#222" stroke-width="0.06" >4</text>
<line x1="374.9" y1="296.35" x2="377.5" y2="296.35" stroke="#222" stroke-width="1"/>
<text x="372.5" y="298.55" font-size="6.3" text-anchor="end" font-weight="normal" fill="#222" stroke="#222" stroke-width="0.06" >5</text>
<line x1="374.9" y1="277.90" x2="377.5" y2="277.90" stroke="#222" stroke-width="1"/>
<text x="372.5" y="280.1" font-size="6.3" text-anchor="end" font-weight="normal" fill="#222" stroke="#222" stroke-width="0.06" >6</text>
<line x1="379.20" y1="388.6" x2="379.20" y2="391.2" stroke="#222" stroke-width="1"/>
<text x="379.20" y="400.2" font-size="6.3" text-anchor="middle" font-weight="normal" fill="#222" stroke="#222" stroke-width="0.06" >0</text>
<line x1="415.45" y1="388.6" x2="415.45" y2="391.2" stroke="#222" stroke-width="1"/>
<text x="415.45" y="400.2" font-size="6.3" text-anchor="middle" font-weight="normal" fill="#222" stroke="#222" stroke-width="0.06" >100</text>
<line x1="451.70" y1="388.6" x2="451.70" y2="391.2" stroke="#222" stroke-width="1"/>
<text x="451.70" y="400.2" font-size="6.3" text-anchor="middle" font-weight="normal" fill="#222" stroke="#222" stroke-width="0.06" >200</text>
<line x1="487.95" y1="388.6" x2="487.95" y2="391.2" stroke="#222" stroke-width="1"/>
<text x="487.95" y="400.2" font-size="6.3" text-anchor="middle" font-weight="normal" fill="#222" stroke="#222" stroke-width="0.06" >300</text>
<text x="384" y="287.1" font-size="6.3" text-anchor="start" font-weight="normal" fill="#222" stroke="#222" stroke-width="0.06" >Hazard ratio, 1.12 (95% CI, 0.57-2.21)</text>
<text x="384" y="294.8" font-size="6.3" text-anchor="start" font-weight="normal" fill="#222" stroke="#222" stroke-width="0.06" ><tspan font-style="italic">P</tspan> = .737</text>
<line x1="439.0" y1="360.1" x2="452.5" y2="360.1" stroke="#a8485f" stroke-width="1.6"/>
<text x="455.9" y="362.0" font-size="5.38" text-anchor="start" font-weight="normal" fill="#222" stroke="#222" stroke-width="0.06" >H3Cit-DNA 68.7 -171.3</text>
<line x1="439.0" y1="369.2" x2="452.5" y2="369.2" stroke="#5d7894" stroke-width="1.6"/>
<text x="455.9" y="371.09999999999997" font-size="5.38" text-anchor="start" font-weight="normal" fill="#222" stroke="#222" stroke-width="0.06" >H3Cit-DNA &#8804; 68.7</text>
<line x1="439.0" y1="378.2" x2="452.5" y2="378.2" stroke="#6aae7c" stroke-width="1.6"/>
<text x="455.9" y="380.09999999999997" font-size="5.38" text-anchor="start" font-weight="normal" fill="#222" stroke="#222" stroke-width="0.06" >H3Cit-DNA &#8805; 171.3</text>
<polyline points="387.40,388.60 387.40,372.60 390.40,372.60 390.40,356.30 392.60,356.30 392.60,340.20 411.40,340.20 411.40,324.40 511.00,324.40" fill="none" stroke="#5d7894" stroke-width="1.2" stroke-linejoin="miter"/>
<polyline points="427.80,388.60 427.80,371.90 432.70,371.90 432.70,355.30 439.10,355.30 439.10,338.70 449.30,338.70 449.30,320.00 451.00,320.00 451.00,306.30 511.00,306.30" fill="none" stroke="#a8485f" stroke-width="1.2" stroke-linejoin="miter"/>
<polyline points="391.00,388.60 391.00,372.60 392.00,372.60 392.00,369.20 412.30,369.20 412.30,348.40 416.40,348.40 416.40,327.30 426.50,327.30 426.50,307.40 511.00,307.40" fill="none" stroke="#6aae7c" stroke-width="1.2" stroke-linejoin="miter"/>
<line x1="451.5" y1="306.8" x2="511" y2="306.8" stroke="#b4907e" stroke-width="2.4"/>
<polyline points="347.00,413.50 408.44,413.50 408.44,412.25 414.64,412.25 414.64,411.00 422.73,411.00 422.73,409.75 435.63,409.75 435.63,408.35 437.78,408.35 437.78,407.32 514.00,407.32" fill="none" stroke="#a8485f" stroke-width="1.3" stroke-linejoin="miter"/>
<polyline points="347.00,413.50 357.37,413.50 357.37,412.30 361.16,412.30 361.16,411.07 363.94,411.07 363.94,409.86 387.71,409.86 387.71,408.68 514.00,408.68" fill="none" stroke="#5d7894" stroke-width="1.3" stroke-linejoin="miter"/>
<polyline points="347.00,413.50 361.92,413.50 361.92,412.30 363.18,412.30 363.18,412.04 388.85,412.04 388.85,410.48 394.03,410.48 394.03,408.90 406.80,408.90 406.80,407.40 514.00,407.40" fill="none" stroke="#6aae7c" stroke-width="1.3" stroke-linejoin="miter"/>
<text x="332.70000000000005" y="448.1" font-size="6.0" text-anchor="start" font-weight="normal" fill="#222" stroke="#222" stroke-width="0.06" >N. at risk</text>
<text x="332.00000000000006" y="458.8" font-size="6.5" text-anchor="end" font-weight="normal" fill="#222" stroke="#222" stroke-width="0.06" >H3Cit-DNA &#8804; 68.7</text>
<text x="346.60" y="458.8" font-size="6.3" text-anchor="middle" font-weight="normal" fill="#222" stroke="#222" stroke-width="0.06" >120</text>
<text x="369.52" y="458.8" font-size="6.3" text-anchor="middle" font-weight="normal" fill="#222" stroke="#222" stroke-width="0.06" >113</text>
<text x="392.43" y="458.8" font-size="6.3" text-anchor="middle" font-weight="normal" fill="#222" stroke="#222" stroke-width="0.06" >112</text>
<text x="415.35" y="458.8" font-size="6.3" text-anchor="middle" font-weight="normal" fill="#222" stroke="#222" stroke-width="0.06" >112</text>
<text x="438.26" y="458.8" font-size="6.3" text-anchor="middle" font-weight="normal" fill="#222" stroke="#222" stroke-width="0.06" >111</text>
<text x="461.18" y="458.8" font-size="6.3" text-anchor="middle" font-weight="normal" fill="#222" stroke="#222" stroke-width="0.06" >111</text>
<text x="484.09" y="458.8" font-size="6.3" text-anchor="middle" font-weight="normal" fill="#222" stroke="#222" stroke-width="0.06" >111</text>
<text x="507.00" y="458.8" font-size="6.3" text-anchor="middle" font-weight="normal" fill="#222" stroke="#222" stroke-width="0.06" >110</text>
<text x="332.00000000000006" y="468.8" font-size="6.5" text-anchor="end" font-weight="normal" fill="#222" stroke="#222" stroke-width="0.06" >H3Cit-DNA 68.7 -171.3</text>
<text x="346.60" y="468.8" font-size="6.3" text-anchor="middle" font-weight="normal" fill="#222" stroke="#222" stroke-width="0.06" >121</text>
<text x="369.52" y="468.8" font-size="6.3" text-anchor="middle" font-weight="normal" fill="#222" stroke="#222" stroke-width="0.06" >113</text>
<text x="392.43" y="468.8" font-size="6.3" text-anchor="middle" font-weight="normal" fill="#222" stroke="#222" stroke-width="0.06" >113</text>
<text x="415.35" y="468.8" font-size="6.3" text-anchor="middle" font-weight="normal" fill="#222" stroke="#222" stroke-width="0.06" >111</text>
<text x="438.26" y="468.8" font-size="6.3" text-anchor="middle" font-weight="normal" fill="#222" stroke="#222" stroke-width="0.06" >108</text>
<text x="461.18" y="468.8" font-size="6.3" text-anchor="middle" font-weight="normal" fill="#222" stroke="#222" stroke-width="0.06" >106</text>
<text x="484.09" y="468.8" font-size="6.3" text-anchor="middle" font-weight="normal" fill="#222" stroke="#222" stroke-width="0.06" >106</text>
<text x="507.00" y="468.8" font-size="6.3" text-anchor="middle" font-weight="normal" fill="#222" stroke="#222" stroke-width="0.06" >106</text>
<text x="332.00000000000006" y="478.9" font-size="6.5" text-anchor="end" font-weight="normal" fill="#222" stroke="#222" stroke-width="0.06" >H3Cit-DNA &#8805; 171.3</text>
<text x="346.60" y="478.9" font-size="6.3" text-anchor="middle" font-weight="normal" fill="#222" stroke="#222" stroke-width="0.06" >120</text>
<text x="369.52" y="478.9" font-size="6.3" text-anchor="middle" font-weight="normal" fill="#222" stroke="#222" stroke-width="0.06" >91</text>
<text x="392.43" y="478.9" font-size="6.3" text-anchor="middle" font-weight="normal" fill="#222" stroke="#222" stroke-width="0.06" >89</text>
<text x="415.35" y="478.9" font-size="6.3" text-anchor="middle" font-weight="normal" fill="#222" stroke="#222" stroke-width="0.06" >87</text>
<text x="438.26" y="478.9" font-size="6.3" text-anchor="middle" font-weight="normal" fill="#222" stroke="#222" stroke-width="0.06" >87</text>
<text x="461.18" y="478.9" font-size="6.3" text-anchor="middle" font-weight="normal" fill="#222" stroke="#222" stroke-width="0.06" >87</text>
<text x="484.09" y="478.9" font-size="6.3" text-anchor="middle" font-weight="normal" fill="#222" stroke="#222" stroke-width="0.06" >86</text>
<text x="507.00" y="478.9" font-size="6.3" text-anchor="middle" font-weight="normal" fill="#222" stroke="#222" stroke-width="0.06" >86</text>
<rect x="0.5" y="0.5" width="519" height="485" fill="none" stroke="#666" stroke-width="1"/>
</g></svg>
</body></html>
